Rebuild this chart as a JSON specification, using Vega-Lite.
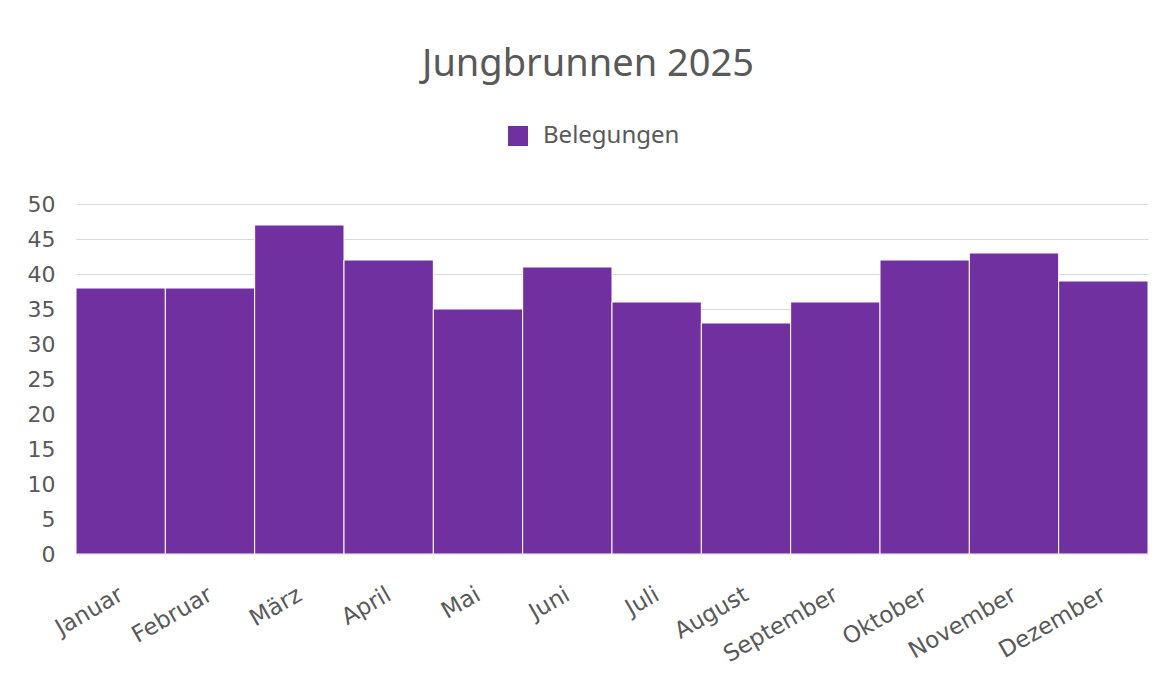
{
  "$schema": "https://vega.github.io/schema/vega-lite/v6.json",
  "width": 1072,
  "height": 350,
  "autosize": {"type": "none"},
  "padding": {"left": 76, "top": 204, "right": 12, "bottom": 130},
  "background": "white",
  "title": {
    "text": "Jungbrunnen 2025",
    "anchor": "middle",
    "dx": -24,
    "offset": 40,
    "font": "Noto Sans",
    "fontSize": 38,
    "fontWeight": "normal",
    "color": "#595959"
  },
  "data": {
    "values": [
      {"Monat": "Januar", "Belegungen": 38, "Serie": "Belegungen"},
      {"Monat": "Februar", "Belegungen": 38, "Serie": "Belegungen"},
      {"Monat": "März", "Belegungen": 47, "Serie": "Belegungen"},
      {"Monat": "April", "Belegungen": 42, "Serie": "Belegungen"},
      {"Monat": "Mai", "Belegungen": 35, "Serie": "Belegungen"},
      {"Monat": "Juni", "Belegungen": 41, "Serie": "Belegungen"},
      {"Monat": "Juli", "Belegungen": 36, "Serie": "Belegungen"},
      {"Monat": "August", "Belegungen": 33, "Serie": "Belegungen"},
      {"Monat": "September", "Belegungen": 36, "Serie": "Belegungen"},
      {"Monat": "Oktober", "Belegungen": 42, "Serie": "Belegungen"},
      {"Monat": "November", "Belegungen": 43, "Serie": "Belegungen"},
      {"Monat": "Dezember", "Belegungen": 39, "Serie": "Belegungen"}
    ]
  },
  "mark": {"type": "bar", "stroke": "white", "strokeWidth": 1},
  "encoding": {
    "x": {
      "field": "Monat",
      "type": "nominal",
      "sort": null,
      "scale": {"paddingInner": 0, "paddingOuter": 0},
      "axis": {
        "title": null,
        "labelAngle": -30,
        "labelAlign": "right",
        "labelBaseline": "top",
        "labelFont": "DejaVu Sans",
        "labelFontSize": 23,
        "labelColor": "#595959",
        "labelPadding": 29,
        "labelOffset": -5,
        "ticks": false,
        "domain": true,
        "domainColor": "#D9D9D9",
        "grid": false
      }
    },
    "y": {
      "field": "Belegungen",
      "type": "quantitative",
      "scale": {"domain": [0, 50], "nice": false},
      "axis": {
        "title": null,
        "values": [0, 5, 10, 15, 20, 25, 30, 35, 40, 45, 50],
        "labelFont": "DejaVu Sans",
        "labelFontSize": 22,
        "labelColor": "#595959",
        "labelPadding": 21,
        "ticks": false,
        "domain": false,
        "gridColor": "#D9D9D9",
        "gridWidth": 1
      }
    },
    "color": {
      "field": "Serie",
      "type": "nominal",
      "scale": {"range": ["#7030A0"]},
      "legend": {
        "title": null,
        "orient": "none",
        "legendX": 430,
        "legendY": -80,
        "symbolType": "square",
        "symbolSize": 400,
        "symbolStrokeWidth": 0,
        "labelFont": "Noto Sans",
        "labelFontSize": 24,
        "labelColor": "#595959",
        "labelOffset": 13
      }
    }
  },
  "config": {"view": {"stroke": null}}
}
